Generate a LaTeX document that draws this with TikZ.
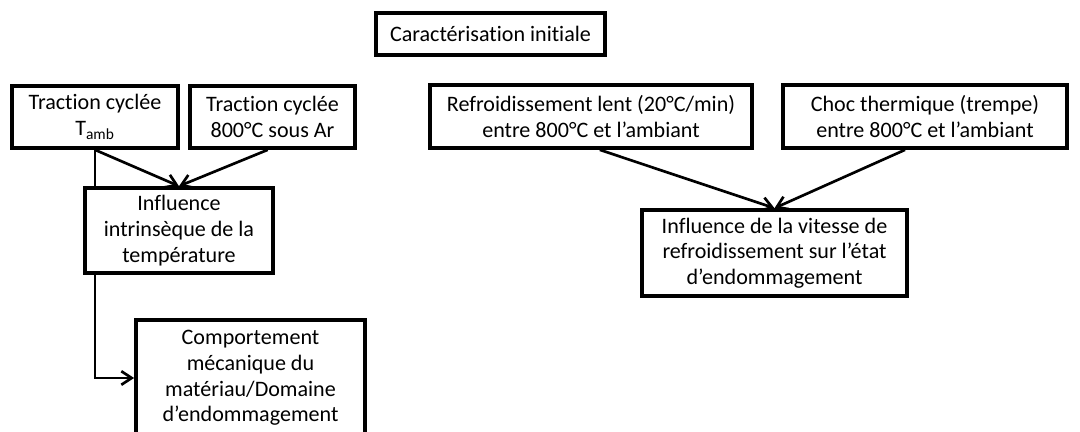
\documentclass[tikz,border=0pt]{standalone}
\usepackage{fontspec}
\setmainfont{Carlito}[Ligatures=NoCommon]
\usetikzlibrary{arrows.meta}

\begin{document}
\begin{tikzpicture}[x=0.025cm, y=-0.025cm, font=\fontsize{15.7}{18.3}\selectfont,
    box/.style={draw, rectangle, line width=2.6pt, fill=white, align=center, inner sep=2pt},
    link/.style={line width=1.9pt, -{Straight Barb[length=2.6mm,width=3.4mm]}}]
    \clip (0,0) rectangle (1080,432);

    % Initial characterisation
    \node[box, minimum width=5.725cm, minimum height=1.05cm] (init) at (490.5,34) {Caractérisation initiale};

    % Cyclic tensile tests
    \node[box, minimum width=4.15cm, minimum height=1.55cm] (tamb) at (95,117) {Traction cyclée\\T\textsubscript{amb}};
    \node[box, minimum width=4.125cm, minimum height=1.55cm] (t800) at (272.5,117) {Traction cyclée\\800°C sous Ar};

    % Temperature influence
    \node[box, minimum width=4.7cm, minimum height=2.125cm] (infl) at (179,230.5) {Influence\\intrinsèque de la\\température};

    % Mechanical behaviour
    \node[box, minimum width=5.725cm, minimum height=2.9cm] (comp) at (250.5,378) {Comportement\\mécanique du\\matériau/Domaine\\d’endommagement};

    % Cooling tests
    \node[box, minimum width=8.05cm, minimum height=1.575cm] (refr) at (591,116.5) {Refroidissement lent (20°C/min)\\entre 800°C et l’ambiant};
    \node[box, minimum width=7.1cm, minimum height=1.575cm] (choc) at (925,116.5) {Choc thermique (trempe)\\entre 800°C et l’ambiant};

    % Cooling rate influence
    \node[box, minimum width=6.625cm, minimum height=2.15cm] (vitesse) at (774.5,253) {Influence de la vitesse de\\refroidissement sur l’état\\d’endommagement};

    % Arrows
    \draw[link] (tamb.south) -- (infl.north);
    \draw[link] ([xshift=-0.12cm]t800.south) -- (infl.north);
    \draw[line width=1.9pt] (tamb.south) -- (tamb.south |- infl.north);
    \draw[link] (tamb.south |- infl.south) |- (comp.west);
    \draw[link] ([xshift=0.22cm]refr.south) -- (vitesse.north);
    \draw[link] ([xshift=-0.5cm]choc.south) -- (vitesse.north);
\end{tikzpicture}
\end{document}
